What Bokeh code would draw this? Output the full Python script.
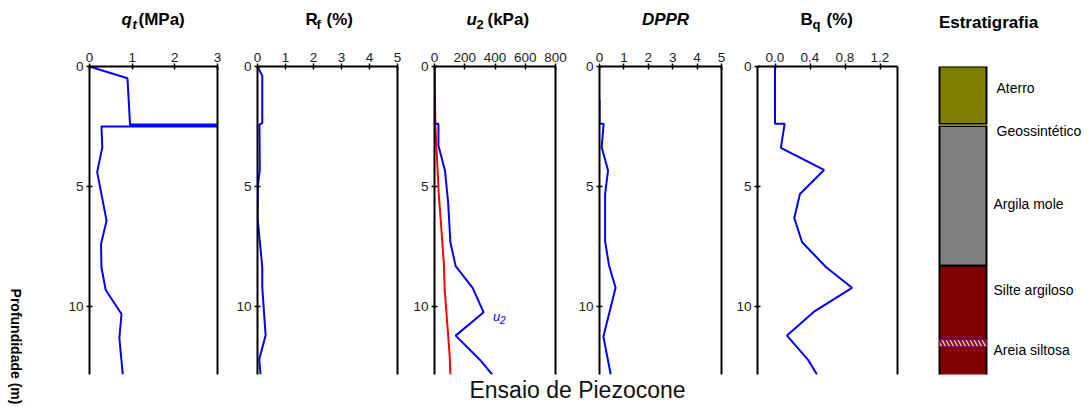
from math import pi
from bokeh.plotting import figure
from bokeh.models import Range1d, LinearAxis, FixedTicker, Label
from bokeh.layouts import row, column
from bokeh.embed import file_html
from bokeh.resources import INLINE

FONT = "Liberation Sans"
TICK_COLOR = "#222222"

# ---------------- data ----------------
DEPTH_MAX = 12.83
depth_ticks = [0, 5, 10]

qt_depth = [0, 0.49, 2.42, 2.42, 2.50, 2.50, 3.36, 4.40, 6.42, 7.39, 8.36, 9.31, 10.31, 11.31, 12.83]
qt_val = [0, 0.89, 0.95, 3.0, 3.0, 0.28, 0.30, 0.18, 0.40, 0.27, 0.28, 0.38, 0.75, 0.70, 0.78]
qt_ticks = [0, 1, 2, 3]

rf_depth = [0, 0.38, 2.36, 2.42, 4.33, 4.89, 6.28, 8.36, 9.19, 11.20, 12.20, 12.83]
rf_val = [0, 0.17, 0.17, 0.07, 0.08, 0.02, 0.0, 0.17, 0.17, 0.29, 0.06, 0.11]
rf_ticks = [0, 1, 2, 3, 4, 5]

u2_depth = [0, 2.39, 2.39, 3.29, 4.33, 5.65, 7.32, 8.32, 9.22, 10.24, 11.21, 12.25, 12.83]
u2_val = [0, 0, 26, 26, 69, 90, 105, 140, 252, 325, 140, 305, 381]
u0_depth = [0, 2.50, 5.30, 8.20, 9.26, 12.10, 12.83]
u0_val = [0, 6, 28, 62, 67, 101, 105]
u2_ticks = [0, 200, 400, 600, 800]

dppr_depth = [1.39, 2.39, 2.39, 3.36, 4.33, 5.31, 6.28, 7.28, 8.29, 9.22, 11.25, 12.83]
dppr_val = [0, 0, 0.17, 0.09, 0.35, 0.23, 0.23, 0.23, 0.39, 0.66, 0.16, 0.46]
dppr_ticks = [0, 1, 2, 3, 4, 5]

bq_depth = [0, 2.39, 2.39, 3.39, 4.31, 5.31, 6.31, 7.32, 8.36, 9.22, 10.19, 11.21, 12.22, 12.83]
bq_val = [0, 0, 0.11, 0.067, 0.56, 0.285, 0.22, 0.31, 0.585, 0.88, 0.455, 0.137, 0.378, 0.48]
bq_ticks = [0.0, 0.4, 0.8, 1.2]
bq_tick_labels = ["0.0", "0.4", "0.8", "1.2"]

layer_names = ["Aterro", "Argila mole", "Silte argiloso"]
layer_top = [0.0, 2.48, 8.30]
layer_bottom = [2.40, 8.30, 13.0]
layer_colors = ["#808000", "#808080", "#800000"]
geo_depth = 2.44
sand_top = 11.38
sand_bottom = 11.67

strat_labels = ["Aterro", "Geossintético", "Argila mole", "Silte argiloso", "Areia siltosa"]
strat_label_depth = [0.88, 2.67, 5.71, 9.29, 11.79]
strat_label_dx = [10, 10, 7, 7, 7]

# ---------------- layout constants (page pixels) ----------------
TOP_STRIP = 35
PANEL_H = 341
BOTTOM_STRIP = 31
FRAME_TOP = 31  # inside panel figure -> page y 66


def style_axis(ax, standoff):
    ax.axis_line_width = 2
    ax.axis_line_color = "black"
    ax.major_tick_line_width = 1.5
    ax.major_tick_line_color = "black"
    ax.major_tick_in = 3
    ax.major_tick_out = 3
    ax.minor_tick_line_color = None
    ax.major_label_text_font = FONT
    ax.major_label_text_font_size = "13.5px"
    ax.major_label_text_color = TICK_COLOR
    ax.major_label_standoff = standoff


def base_fig(width, ml, mr, xr, **kw):
    p = figure(width=width, height=PANEL_H, x_range=Range1d(*xr), y_range=Range1d(DEPTH_MAX, 0),
               toolbar_location=None, output_backend="svg",
               min_border_left=ml, min_border_right=mr, min_border_top=FRAME_TOP,
               min_border_bottom=2, outline_line_color=None, **kw)
    p.xgrid.visible = False
    p.ygrid.visible = False
    return p


def panel(width, ml, mr, xr, xticks, xlabels=None):
    p = base_fig(width, ml, mr, xr, x_axis_location="above", y_axis_location="left")
    p.xaxis.ticker = FixedTicker(ticks=xticks)
    if xlabels is not None:
        p.xaxis.major_label_overrides = {t: l for t, l in zip(xticks, xlabels)}
    p.yaxis.ticker = FixedTicker(ticks=depth_ticks)
    for ax in p.xaxis:
        style_axis(ax, 2)
    for ax in p.yaxis:
        style_axis(ax, 3)
    right = LinearAxis(ticker=FixedTicker(ticks=[]), axis_line_width=2, axis_line_color="black",
                       major_tick_line_color=None, minor_tick_line_color=None,
                       major_label_text_font_size="0px", major_tick_in=0, major_tick_out=0,
                       major_label_standoff=0)
    p.add_layout(right, "right")
    return p


def text_strip(width, height, x0, y0):
    s = figure(width=width, height=height, x_range=Range1d(x0, x0 + width),
               y_range=Range1d(y0 + height, y0),
               x_axis_location=None, y_axis_location=None, toolbar_location=None,
               output_backend="svg", min_border=0, outline_line_color=None)
    s.xgrid.visible = False
    s.ygrid.visible = False
    return s


def lab(p, x, y, text, size, style="normal", align="left", color="black", angle=0):
    p.add_layout(Label(x=x, y=y, text=text, text_font=FONT, text_font_size=size,
                       text_font_style=style, text_color=color, text_align=align,
                       text_baseline="middle", angle=angle))


# qt panel
p1 = panel(195, 59, 8, (0, 3), qt_ticks)
p1.line(qt_val, qt_depth, line_color="#0000ff", line_width=2)

# Rf panel
p2 = panel(185, 32, 13, (0, 5), rf_ticks)
p2.line(rf_val, rf_depth, line_color="#0000ff", line_width=2)

# u2 panel
p3 = panel(165, 21, 20, (0, 800), u2_ticks)
p3.line(u0_val, u0_depth, line_color="#ff0000", line_width=2)
p3.line(u2_val, u2_depth, line_color="#0000ff", line_width=2)
p3.add_layout(Label(x=400, y=10.4, text="u", text_font=FONT, text_font_size="13px",
                    text_font_style="italic", text_color="#0000ff", text_align="left",
                    text_baseline="middle", x_offset=-2))
p3.add_layout(Label(x=400, y=10.58, text="2", text_font=FONT, text_font_size="10px",
                    text_font_style="italic", text_color="#0000ff", text_align="left",
                    text_baseline="middle", x_offset=5))

# DPPR panel
p4 = panel(158, 22, 12, (0, 5), dppr_ticks)
p4.line(dppr_val, dppr_depth, line_color="#0000ff", line_width=2)

# Bq panel
p5 = panel(182, 23, 18, (-0.2, 1.4), bq_ticks, bq_tick_labels)
p5.line(bq_val, bq_depth, line_color="#0000ff", line_width=2)

# stratigraphy: column spans 24..71 px of a 173 px wide figure (frame = whole width)
COL_L, COL_W, STRAT_W = 24, 47, 173
p6 = base_fig(STRAT_W, 0, 0, (-COL_L / COL_W, (STRAT_W - COL_L) / COL_W),
              x_axis_location=None, y_axis_location=None)
p6.quad(left=0, right=1, top=layer_top, bottom=layer_bottom, fill_color=layer_colors,
        line_color="black", line_width=2)
p6.segment(x0=0, x1=1, y0=geo_depth, y1=geo_depth, line_color="#c8c800", line_width=1.2)
p6.quad(left=0, right=1, top=sand_top, bottom=sand_bottom, fill_color="#800080",
        line_color="#800080", line_width=1, hatch_pattern="\\", hatch_color="#ffff00",
        hatch_scale=8, hatch_weight=1.2)
for name, d, dx in zip(strat_labels, strat_label_depth, strat_label_dx):
    p6.add_layout(Label(x=1, y=d, x_offset=dx, text=name, text_font=FONT, text_font_size="14px",
                        text_color="black", text_align="left", text_baseline="middle"))

# title strip (page coordinates)
pt = text_strip(1058, TOP_STRIP, 30, 0)
MY, SUBY = 19, 24
lab(pt, 121, MY, "q", "17px", "bold italic")
lab(pt, 132, SUBY, "t", "13px", "bold italic")
lab(pt, 138, MY, "(MPa)", "17px", "bold")
lab(pt, 305, MY, "R", "17px", "bold")
lab(pt, 316, SUBY, "f", "13px", "bold")
lab(pt, 326, MY, "(%)", "17px", "bold")
lab(pt, 466, MY, "u", "17px", "bold italic")
lab(pt, 476, SUBY, "2", "13px", "bold")
lab(pt, 487, MY, "(kPa)", "17px", "bold")
lab(pt, 665, MY, "DPPR", "17px", "bold italic", align="center")
lab(pt, 800, MY, "B", "17px", "bold")
lab(pt, 812, SUBY, "q", "13px", "bold")
lab(pt, 826, MY, "(%)", "17px", "bold")
lab(pt, 988, 22, "Estratigrafia", "17px", "bold", align="center")

# left label strip
pl = text_strip(30, 407, 0, 0)
lab(pl, 15, 346, "Profundidade (m)", "14px", "bold", align="center", angle=-pi / 2)

# bottom title strip
pb = text_strip(1058, BOTTOM_STRIP, 30, 376)
lab(pb, 577, 389, "Ensaio de Piezocone", "23px", align="center", color="#111111")

layout = row(pl, column(pt, row(p1, p2, p3, p4, p5, p6), pb))

open("out.html", "w").write(file_html(layout, INLINE))
